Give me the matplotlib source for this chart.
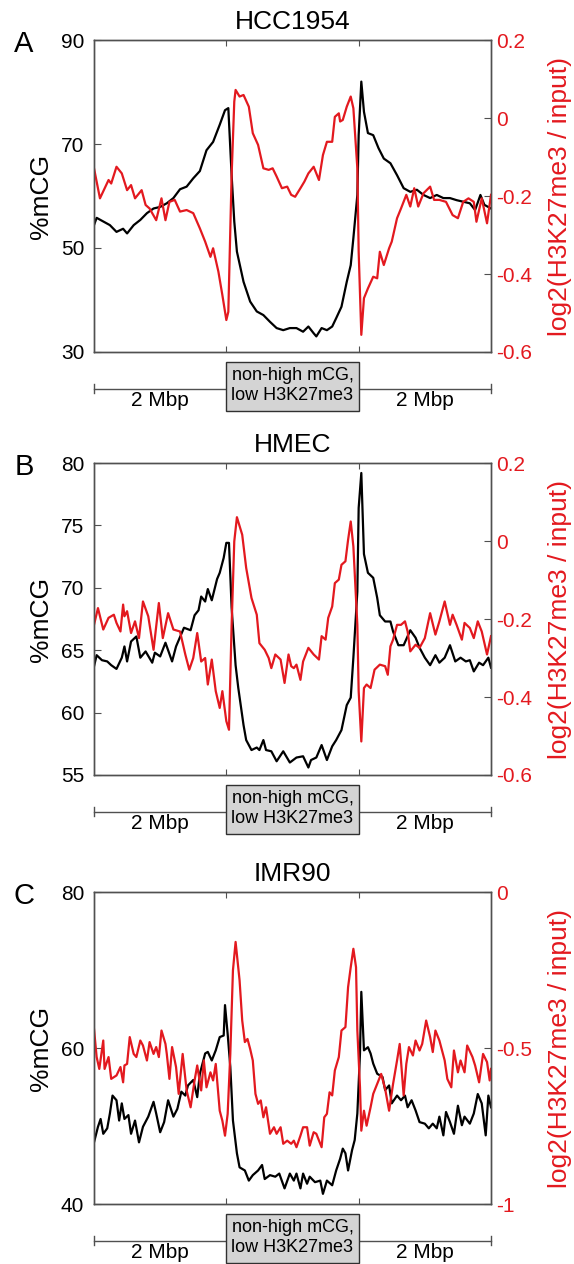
import numpy as np
import matplotlib
matplotlib.use('Agg')
import matplotlib.pyplot as plt
from matplotlib.patches import Rectangle

plt.rcParams['font.family'] = ['Liberation Sans', 'DejaVu Sans']
plt.rcParams['axes.unicode_minus'] = False

RED = '#e3191f'
SPINE = '#505050'

# x runs 0..3: left flank (2 Mbp), scaled domain, right flank (2 Mbp)
titles = ['HCC1954', 'HMEC', 'IMR90']
letters = ['A', 'B', 'C']

# --- A: HCC1954 ---
hcc_mcg_x = [0, 0.02, 0.07, 0.12, 0.17, 0.22, 0.25, 0.30, 0.35, 0.40, 0.45, 0.50, 0.55, 0.60, 0.65, 0.70,
             0.75, 0.80, 0.85, 0.90, 0.95, 0.99, 1.015, 1.04, 1.06, 1.08, 1.13, 1.18, 1.23, 1.28, 1.33, 1.38,
             1.43, 1.48, 1.53, 1.58, 1.62, 1.66, 1.68, 1.72, 1.76, 1.80, 1.83, 1.87, 1.91, 1.94, 1.96, 1.99,
             2.00, 2.02, 2.04, 2.07, 2.11, 2.15, 2.19, 2.24, 2.29, 2.34, 2.39, 2.44, 2.49, 2.54, 2.59, 2.64,
             2.69, 2.74, 2.79, 2.84, 2.88, 2.92, 2.95, 3.00]
hcc_mcg = [54.4, 55.8, 55.1, 54.4, 53.1, 53.7, 52.8, 54.4, 55.4, 56.7, 57.6, 57.9, 58.6, 59.6, 61.3, 61.8,
           63.4, 64.8, 68.8, 70.4, 73.7, 76.5, 76.9, 64.0, 55.1, 49.3, 43.5, 39.7, 37.8, 37.1, 35.8, 34.6,
           34.2, 34.6, 34.6, 33.9, 34.9, 33.6, 33.0, 34.6, 34.2, 34.9, 36.5, 38.7, 43.5, 46.7, 51.9, 60.2,
           71.7, 82.0, 76.2, 72.1, 71.7, 69.2, 67.2, 66.3, 64.0, 61.5, 60.8, 61.2, 60.2, 59.6, 60.2, 59.6,
           59.6, 59.2, 58.9, 58.6, 57.3, 60.2, 58.3, 57.6]
hcc_k27_x = [0, 0.045, 0.11, 0.13, 0.17, 0.21, 0.25, 0.28, 0.31, 0.36, 0.39, 0.42, 0.47, 0.51, 0.54, 0.57,
             0.61, 0.65, 0.70, 0.75, 0.80, 0.84, 0.88, 0.90, 0.94, 0.97, 1.00, 1.015, 1.04, 1.06, 1.07, 1.10,
             1.13, 1.17, 1.20, 1.24, 1.28, 1.32, 1.35, 1.38, 1.42, 1.46, 1.49, 1.52, 1.56, 1.59, 1.62, 1.66,
             1.70, 1.73, 1.76, 1.80, 1.82, 1.85, 1.86, 1.88, 1.91, 1.94, 1.96, 1.99, 2.00, 2.02, 2.04, 2.07,
             2.11, 2.14, 2.16, 2.19, 2.23, 2.25, 2.29, 2.32, 2.36, 2.39, 2.42, 2.45, 2.49, 2.54, 2.57, 2.61,
             2.66, 2.71, 2.75, 2.79, 2.83, 2.87, 2.89, 2.93, 2.97, 3.00]
hcc_k27 = [-0.129, -0.206, -0.159, -0.168, -0.125, -0.142, -0.185, -0.172, -0.206, -0.185, -0.223, -0.232,
           -0.262, -0.206, -0.262, -0.215, -0.210, -0.240, -0.236, -0.244, -0.283, -0.317, -0.356, -0.334,
           -0.394, -0.454, -0.518, -0.497, -0.146, 0.042, 0.072, 0.055, 0.059, 0.029, -0.039, -0.069,
           -0.129, -0.133, -0.129, -0.150, -0.180, -0.176, -0.197, -0.202, -0.180, -0.163, -0.142, -0.125,
           -0.159, -0.095, -0.061, -0.061, 0.003, 0.012, -0.009, -0.005, 0.029, 0.055, 0.025, -0.129,
           -0.343, -0.556, -0.462, -0.437, -0.407, -0.411, -0.343, -0.377, -0.334, -0.317, -0.257, -0.232,
           -0.197, -0.227, -0.180, -0.227, -0.193, -0.176, -0.210, -0.210, -0.215, -0.249, -0.257, -0.215,
           -0.206, -0.215, -0.266, -0.206, -0.270, -0.197]

# --- B: HMEC ---
hmec_mcg_x = [0, 0.02, 0.06, 0.10, 0.13, 0.17, 0.21, 0.23, 0.25, 0.28, 0.32, 0.35, 0.39, 0.44, 0.46, 0.50,
              0.54, 0.59, 0.62, 0.68, 0.73, 0.76, 0.79, 0.81, 0.84, 0.86, 0.89, 0.93, 0.95, 0.98, 1.00, 1.02,
              1.04, 1.07, 1.09, 1.13, 1.15, 1.19, 1.23, 1.25, 1.28, 1.30, 1.34, 1.38, 1.43, 1.48, 1.53, 1.58,
              1.62, 1.64, 1.68, 1.72, 1.76, 1.80, 1.83, 1.87, 1.91, 1.94, 1.96, 1.99, 2.00, 2.02, 2.04, 2.07,
              2.11, 2.14, 2.16, 2.20, 2.24, 2.26, 2.30, 2.34, 2.39, 2.43, 2.46, 2.50, 2.54, 2.58, 2.61, 2.65,
              2.69, 2.73, 2.77, 2.81, 2.84, 2.87, 2.91, 2.94, 2.98, 3.00]
hmec_mcg = [63.7, 64.6, 64.2, 64.1, 63.8, 63.5, 64.4, 65.3, 64.1, 65.7, 66.1, 64.4, 64.9, 64.0, 64.8, 64.5,
            65.6, 64.1, 65.3, 66.8, 66.6, 67.8, 68.2, 69.3, 68.9, 69.9, 69.0, 70.7, 71.2, 72.4, 73.6, 73.6,
            68.4, 63.8, 62.0, 59.0, 57.8, 57.0, 57.2, 57.0, 57.8, 57.0, 56.9, 56.1, 56.9, 56.0, 56.4, 56.5,
            55.6, 56.2, 56.4, 57.4, 56.2, 57.3, 57.8, 58.6, 60.6, 61.2, 64.4, 69.7, 76.4, 79.2, 72.7, 71.2,
            70.8, 69.2, 67.8, 67.3, 67.3, 66.5, 65.4, 65.4, 66.6, 66.0, 65.2, 64.4, 63.8, 64.6, 64.0, 64.4,
            65.4, 64.1, 64.4, 64.1, 64.2, 63.3, 64.0, 63.8, 64.4, 63.6]
hmec_k27_x = [0, 0.03, 0.07, 0.11, 0.15, 0.17, 0.20, 0.22, 0.23, 0.25, 0.28, 0.31, 0.34, 0.37, 0.41, 0.45,
              0.49, 0.52, 0.56, 0.60, 0.65, 0.69, 0.72, 0.75, 0.78, 0.81, 0.84, 0.86, 0.89, 0.92, 0.95, 0.97,
              1.00, 1.02, 1.04, 1.06, 1.08, 1.12, 1.15, 1.19, 1.23, 1.25, 1.29, 1.32, 1.34, 1.37, 1.41, 1.44,
              1.47, 1.49, 1.51, 1.53, 1.56, 1.58, 1.62, 1.66, 1.70, 1.72, 1.75, 1.77, 1.80, 1.82, 1.85, 1.87,
              1.90, 1.92, 1.94, 1.96, 1.99, 2.00, 2.02, 2.04, 2.06, 2.09, 2.12, 2.16, 2.20, 2.22, 2.24, 2.26,
              2.29, 2.32, 2.35, 2.37, 2.39, 2.43, 2.46, 2.50, 2.54, 2.58, 2.61, 2.65, 2.69, 2.71, 2.74, 2.78,
              2.80, 2.84, 2.87, 2.90, 2.93, 2.97, 3.00]
hmec_k27 = [-0.215, -0.172, -0.227, -0.197, -0.189, -0.210, -0.232, -0.163, -0.193, -0.180, -0.236, -0.206,
            -0.249, -0.155, -0.193, -0.279, -0.159, -0.249, -0.185, -0.227, -0.232, -0.291, -0.330, -0.300,
            -0.236, -0.309, -0.300, -0.368, -0.304, -0.385, -0.428, -0.385, -0.462, -0.484, -0.215, -0.001,
            0.061, 0.016, -0.069, -0.146, -0.189, -0.262, -0.279, -0.300, -0.326, -0.291, -0.304, -0.364,
            -0.291, -0.321, -0.326, -0.317, -0.356, -0.309, -0.274, -0.291, -0.304, -0.244, -0.253, -0.197,
            -0.168, -0.108, -0.099, -0.061, -0.052, 0.003, 0.050, -0.014, -0.215, -0.385, -0.514, -0.377,
            -0.368, -0.377, -0.330, -0.317, -0.321, -0.343, -0.270, -0.253, -0.215, -0.215, -0.206, -0.232,
            -0.283, -0.266, -0.274, -0.249, -0.185, -0.240, -0.206, -0.155, -0.215, -0.189, -0.215, -0.253,
            -0.210, -0.223, -0.249, -0.206, -0.232, -0.291, -0.244]

# --- C: IMR90 ---
imr_mcg_x = [0, 0.03, 0.05, 0.07, 0.10, 0.12, 0.14, 0.17, 0.19, 0.21, 0.23, 0.26, 0.28, 0.31, 0.34, 0.37,
             0.41, 0.45, 0.47, 0.50, 0.53, 0.56, 0.60, 0.63, 0.66, 0.69, 0.71, 0.75, 0.78, 0.80, 0.84, 0.86,
             0.89, 0.92, 0.95, 0.98, 0.99, 1.01, 1.03, 1.05, 1.08, 1.10, 1.14, 1.17, 1.20, 1.24, 1.27, 1.29,
             1.33, 1.37, 1.40, 1.44, 1.48, 1.51, 1.53, 1.56, 1.58, 1.61, 1.63, 1.67, 1.71, 1.73, 1.76, 1.80,
             1.83, 1.86, 1.88, 1.90, 1.92, 1.95, 1.97, 1.99, 2.01, 2.02, 2.04, 2.07, 2.09, 2.11, 2.14, 2.18,
             2.20, 2.23, 2.25, 2.29, 2.32, 2.35, 2.37, 2.40, 2.43, 2.46, 2.50, 2.53, 2.56, 2.59, 2.61, 2.64,
             2.66, 2.69, 2.72, 2.75, 2.78, 2.80, 2.84, 2.87, 2.90, 2.93, 2.96, 2.98, 3.00]
imr_mcg = [47.9, 49.9, 50.9, 49.0, 49.7, 51.6, 53.9, 53.3, 50.7, 52.9, 50.9, 51.4, 49.0, 50.7, 47.9, 49.9,
           51.2, 53.1, 51.6, 49.2, 50.5, 53.3, 51.2, 52.2, 54.4, 53.9, 55.2, 55.9, 53.7, 56.7, 59.3, 59.5,
           58.4, 59.7, 61.4, 61.6, 65.5, 61.8, 57.6, 50.7, 46.5, 44.7, 44.3, 43.0, 43.7, 44.3, 45.0, 43.2,
           43.7, 43.5, 43.9, 42.0, 43.9, 43.0, 43.9, 42.0, 43.9, 42.6, 43.5, 42.8, 43.0, 41.3, 43.0, 42.4,
           44.3, 45.8, 47.1, 46.5, 44.3, 46.9, 48.2, 51.6, 59.3, 67.2, 59.7, 60.1, 59.3, 58.0, 56.7, 56.3,
           54.6, 55.2, 52.9, 53.9, 53.3, 53.9, 52.4, 53.3, 52.0, 50.5, 50.3, 49.7, 50.3, 49.7, 51.2, 48.8,
           51.8, 50.5, 49.0, 52.6, 50.1, 51.2, 50.3, 51.6, 54.1, 52.9, 48.8, 53.9, 52.4]
imr_k27_x = [0, 0.02, 0.04, 0.07, 0.08, 0.11, 0.13, 0.17, 0.20, 0.22, 0.23, 0.25, 0.27, 0.30, 0.32, 0.35,
             0.37, 0.40, 0.42, 0.45, 0.47, 0.49, 0.51, 0.54, 0.55, 0.57, 0.59, 0.62, 0.64, 0.67, 0.70, 0.73,
             0.76, 0.78, 0.81, 0.83, 0.85, 0.88, 0.90, 0.92, 0.95, 0.97, 0.99, 1.01, 1.03, 1.05, 1.07, 1.10,
             1.12, 1.14, 1.16, 1.18, 1.20, 1.22, 1.24, 1.26, 1.28, 1.30, 1.33, 1.36, 1.38, 1.41, 1.43, 1.46,
             1.49, 1.51, 1.53, 1.56, 1.58, 1.61, 1.63, 1.66, 1.68, 1.72, 1.74, 1.76, 1.78, 1.80, 1.82, 1.85,
             1.87, 1.90, 1.92, 1.94, 1.96, 1.98, 1.99, 2.01, 2.02, 2.04, 2.06, 2.09, 2.11, 2.14, 2.17, 2.20,
             2.23, 2.26, 2.29, 2.31, 2.34, 2.36, 2.38, 2.41, 2.43, 2.46, 2.48, 2.51, 2.54, 2.56, 2.58, 2.61,
             2.65, 2.67, 2.70, 2.72, 2.75, 2.77, 2.80, 2.82, 2.86, 2.88, 2.91, 2.94, 2.97, 2.99, 3.00]
imr_k27 = [-0.439, -0.529, -0.567, -0.476, -0.567, -0.529, -0.599, -0.588, -0.561, -0.610, -0.556, -0.551,
           -0.465, -0.519, -0.529, -0.476, -0.492, -0.540, -0.481, -0.519, -0.497, -0.529, -0.444, -0.487,
           -0.519, -0.599, -0.497, -0.561, -0.647, -0.519, -0.636, -0.690, -0.604, -0.556, -0.636, -0.540,
           -0.626, -0.578, -0.604, -0.551, -0.701, -0.733, -0.781, -0.711, -0.519, -0.251, -0.160, -0.283,
           -0.412, -0.481, -0.471, -0.503, -0.540, -0.647, -0.679, -0.668, -0.722, -0.690, -0.775, -0.754,
           -0.775, -0.754, -0.807, -0.797, -0.807, -0.797, -0.818, -0.781, -0.754, -0.754, -0.813, -0.770,
           -0.775, -0.818, -0.722, -0.711, -0.642, -0.652, -0.572, -0.529, -0.444, -0.433, -0.305, -0.241,
           -0.182, -0.241, -0.444, -0.626, -0.765, -0.701, -0.749, -0.690, -0.647, -0.615, -0.583, -0.631,
           -0.701, -0.615, -0.540, -0.487, -0.652, -0.551, -0.497, -0.524, -0.476, -0.508, -0.487, -0.412,
           -0.465, -0.513, -0.444, -0.476, -0.540, -0.599, -0.626, -0.508, -0.578, -0.540, -0.578, -0.492,
           -0.529, -0.556, -0.610, -0.519, -0.545, -0.604, -0.567]

mcg_ranges = [(30, 90), (55, 80), (40, 80)]
mcg_ticks = [[30, 50, 70, 90], [55, 60, 65, 70, 75, 80], [40, 60, 80]]
k27_ranges = [(-0.6, 0.2), (-0.6, 0.2), (-1, 0)]
k27_ticks = [[-0.6, -0.4, -0.2, 0, 0.2], [-0.6, -0.4, -0.2, 0, 0.2], [-1, -0.5, 0]]

mcg_data = [(hcc_mcg_x, hcc_mcg), (hmec_mcg_x, hmec_mcg), (imr_mcg_x, imr_mcg)]
k27_data = [(hcc_k27_x, hcc_k27), (hmec_k27_x, hmec_k27), (imr_k27_x, imr_k27)]


def draw_panel(ax, i):
    ax2 = ax.twinx()
    ax.plot(*mcg_data[i], color='black', lw=1.6)
    ax2.plot(*k27_data[i], color=RED, lw=1.6)

    ax.set_xlim(0, 3)
    ax.set_ylim(*mcg_ranges[i])
    ax2.set_ylim(*k27_ranges[i])

    ax.set_xticks([1, 2])
    ax.set_xticklabels([])
    ax.tick_params(axis='x', direction='in', top=True, bottom=True, length=4, color=SPINE)
    ax.set_yticks(mcg_ticks[i])
    ax.tick_params(axis='y', direction='in', length=5, labelsize=15, pad=7, color=SPINE)
    ax2.set_yticks(k27_ticks[i])
    ax2.set_yticklabels([f'{v:g}' for v in k27_ticks[i]])
    ax2.tick_params(axis='y', direction='in', length=5, labelsize=15, pad=4,
                    color=SPINE, labelcolor=RED)
    for a in (ax, ax2):
        for sp in a.spines.values():
            sp.set_color(SPINE)
            sp.set_linewidth(1.0)

    ax.set_ylabel('%mCG', fontsize=19, labelpad=6)
    ax2.set_ylabel('log2(H3K27me3 / input)', fontsize=19, color=RED, labelpad=11)

    tr = ax.get_xaxis_transform()
    ax.text(1.5, 1.058, titles[i], transform=tr, ha='center', va='center', fontsize=19)

    # genomic bracket under the axis
    yb = -0.117
    ax.plot([0, 3], [yb, yb], transform=tr, clip_on=False, color=SPINE, lw=1)
    for xe in (0, 3):
        ax.plot([xe, xe], [yb - 0.013, yb + 0.013], transform=tr, clip_on=False, color=SPINE, lw=1)
    ax.add_patch(Rectangle((1, -0.189), 1, 0.156, transform=tr, clip_on=False,
                           facecolor='#d4d4d4', edgecolor='#303030', lw=1, zorder=5))
    ax.text(1.5, -0.108, 'non-high mCG,\nlow H3K27me3', transform=tr, ha='center', va='center',
            fontsize=13, linespacing=1.2, zorder=6)
    for xm in (0.5, 2.5):
        ax.text(xm, -0.157, '2 Mbp', transform=tr, ha='center', va='center', fontsize=15)


fig = plt.figure(figsize=(5.74, 12.64), dpi=100)
W, H = 574.0, 1264.0
tops = [40, 463, 892]
for i, top in enumerate(tops):
    ax = fig.add_axes([94 / W, 1 - (top + 312) / H, 397 / W, 312 / H])
    draw_panel(ax, i)
    fig.text(24 / W, 1 - (top + 4) / H, letters[i], fontsize=21, ha='center', va='center')

fig.savefig('out.png', dpi=100)
